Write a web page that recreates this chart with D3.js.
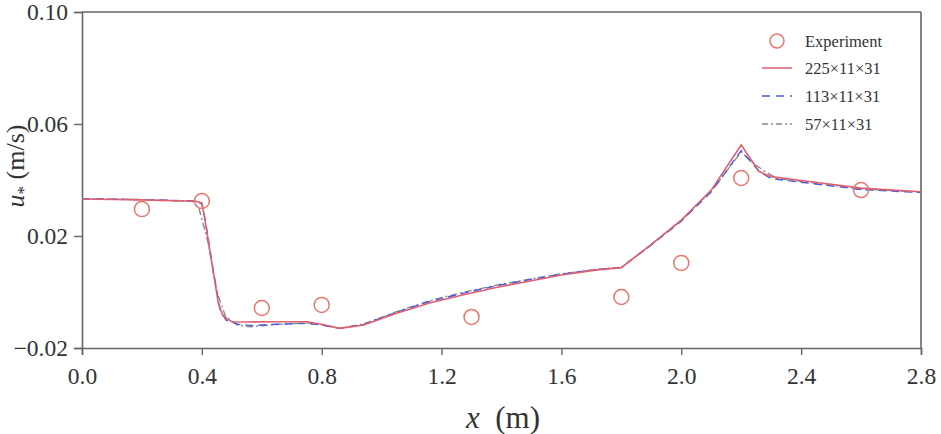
<!DOCTYPE html>
<html><head><meta charset="utf-8">
<script src="https://cdn.jsdelivr.net/npm/d3@7"></script>
<style>body{margin:0;background:#fff;} svg{display:block;} text{font-family:"Liberation Serif","Times New Roman",Times,serif;}</style>
</head><body>
<svg id="c" width="941" height="434"></svg>
<script>
const xTicks = [0.0,0.4,0.8,1.2,1.6,2.0,2.4,2.8];
const yTicks = [-0.02,0.02,0.06,0.10];

const expX = [0.2,0.4,0.6,0.8,1.3,1.8,2.0,2.2,2.6];
const expY = [0.0296,0.0325,-0.0057,-0.0046,-0.0089,-0.0018,0.0104,0.0407,0.0364];

const fineX = [0,0.2,0.38,0.40,0.41,0.44,0.455,0.47,0.50,0.55,0.65,0.75,0.80,0.86,0.94,1.05,1.16,1.27,1.39,1.50,1.60,1.72,1.80,1.90,2.00,2.10,2.20,2.26,2.30,2.40,2.60,2.80];
const fineY = [0.0332,0.0329,0.0324,0.0318,0.0260,0.0060,-0.0040,-0.0085,-0.0106,-0.0107,-0.0106,-0.0106,-0.0115,-0.0130,-0.0118,-0.0076,-0.0039,-0.0011,0.0018,0.0040,0.0061,0.0079,0.0087,0.0170,0.0257,0.0364,0.0525,0.0430,0.0412,0.0398,0.0371,0.0358];

const medX = [0,0.2,0.38,0.40,0.41,0.44,0.46,0.48,0.52,0.57,0.65,0.75,0.80,0.86,0.94,1.05,1.16,1.27,1.39,1.50,1.60,1.72,1.80,1.90,2.00,2.10,2.20,2.26,2.30,2.40,2.60,2.80];
const medY = [0.0333,0.0330,0.0325,0.0315,0.0265,0.0065,-0.0060,-0.0100,-0.0115,-0.0120,-0.0115,-0.0112,-0.0118,-0.0130,-0.0116,-0.0072,-0.0034,-0.0005,0.0024,0.0045,0.0064,0.0081,0.0088,0.0168,0.0253,0.0358,0.0505,0.0430,0.0405,0.0392,0.0366,0.0355];

const coarseX = [0,0.2,0.37,0.39,0.42,0.45,0.48,0.52,0.56,0.65,0.75,0.80,0.86,0.94,1.05,1.16,1.27,1.39,1.50,1.60,1.72,1.80,1.90,2.00,2.10,2.20,2.24,2.28,2.32,2.40,2.60,2.80];
const coarseY = [0.0333,0.0330,0.0323,0.0300,0.0180,0.0000,-0.0090,-0.0118,-0.0124,-0.0116,-0.0110,-0.0117,-0.0130,-0.0114,-0.0070,-0.0031,-0.0002,0.0026,0.0047,0.0065,0.0081,0.0088,0.0170,0.0255,0.0360,0.0500,0.0460,0.0430,0.0405,0.0395,0.0368,0.0357];

const legendLabels = ["Experiment","225\u00d711\u00d731","113\u00d711\u00d731","57\u00d711\u00d731"];

const FONT = '"Liberation Serif","Times New Roman",Times,serif';
const svg = d3.select("#c");
const m = {l:82, r:921, t:12, b:348};
const x = d3.scaleLinear().domain([0,2.8]).range([m.l,m.r]);
const y = d3.scaleLinear().domain([-0.02,0.10]).range([m.b,m.t]);
const axisCol = "#666";

const gx = svg.append("g").attr("transform",`translate(0,${m.b})`)
  .call(d3.axisBottom(x).tickValues(xTicks).tickFormat(d3.format(".1f")).tickSize(7).tickPadding(12));
const gy = svg.append("g").attr("transform",`translate(${m.l},0)`)
  .call(d3.axisLeft(y).tickValues(yTicks).tickFormat(d=>d3.format(".2f")(d).replace("-","\u2212")).tickSize(8).tickPadding(6));
[gx,gy].forEach(g=>{
  g.attr("font-family",FONT).attr("font-size",23.5);
  g.selectAll("path").attr("stroke",axisCol).attr("stroke-width",1.6);
  g.selectAll("line").attr("stroke",axisCol).attr("stroke-width",1.4);
  g.selectAll("text").attr("fill","#333");
});
// top & right frame
svg.append("line").attr("x1",m.l).attr("x2",m.r).attr("y1",m.t).attr("y2",m.t).attr("stroke",axisCol).attr("stroke-width",1.6);
svg.append("line").attr("x1",m.r).attr("x2",m.r).attr("y1",m.t).attr("y2",m.b).attr("stroke",axisCol).attr("stroke-width",1.6);

const line = d3.line().x(d=>x(d[0])).y(d=>y(d[1]));
const zip = (a,b)=>a.map((v,i)=>[v,b[i]]);

const cRed="#e06070", cBlue="#4a5ae0", cGrey="#8a8a8a", cCirc="#e8766c";
svg.append("path").datum(zip(coarseX,coarseY)).attr("d",line).attr("fill","none").attr("stroke",cGrey).attr("stroke-width",1.4).attr("stroke-dasharray","7,3,2,3");
svg.append("path").datum(zip(medX,medY)).attr("d",line).attr("fill","none").attr("stroke",cBlue).attr("stroke-width",1.4).attr("stroke-dasharray","8,5");
svg.append("path").datum(zip(fineX,fineY)).attr("d",line).attr("fill","none").attr("stroke",cRed).attr("stroke-width",1.6);

svg.append("g").selectAll("circle").data(zip(expX,expY)).join("circle")
  .attr("cx",d=>x(d[0])).attr("cy",d=>y(d[1])).attr("r",7.5)
  .attr("fill","none").attr("stroke",cCirc).attr("stroke-width",1.5);

// legend
const lg = svg.append("g").attr("font-family",FONT);
const ly = [41,68,96,124];
lg.append("circle").attr("cx",777).attr("cy",ly[0]).attr("r",7).attr("fill","none").attr("stroke",cCirc).attr("stroke-width",1.5);
lg.append("line").attr("x1",762).attr("x2",792).attr("y1",ly[1]).attr("y2",ly[1]).attr("stroke",cRed).attr("stroke-width",1.5);
lg.append("line").attr("x1",762).attr("x2",792).attr("y1",ly[2]).attr("y2",ly[2]).attr("stroke",cBlue).attr("stroke-width",1.5).attr("stroke-dasharray","8,6");
lg.append("line").attr("x1",762).attr("x2",792).attr("y1",ly[3]).attr("y2",ly[3]).attr("stroke",cGrey).attr("stroke-width",1.3).attr("stroke-dasharray","6,3,2,3");
lg.selectAll("text").data(legendLabels).join("text")
  .attr("x",805).attr("y",(d,i)=>ly[i]).attr("dy","0.35em")
  .attr("font-size",16.5).attr("fill","#333").text(d=>d);

// axis labels
const xl = svg.append("text").attr("x",466).attr("y",428).attr("text-anchor","start").attr("font-size",31).attr("fill","#333").attr("font-family",FONT);
xl.append("tspan").attr("font-style","italic").text("x");
xl.append("tspan").text("\u00a0\u00a0(m)");

const yl = svg.append("text").attr("transform","translate(24,166) rotate(-90)").attr("text-anchor","middle").attr("font-size",26).attr("fill","#333").attr("font-family",FONT);
yl.append("tspan").attr("font-style","italic").text("u");
yl.append("tspan").attr("font-size",17).attr("dy",5).text("*");
yl.append("tspan").attr("dy",-5).text("\u00a0(m/s)");
</script>
</body></html>
